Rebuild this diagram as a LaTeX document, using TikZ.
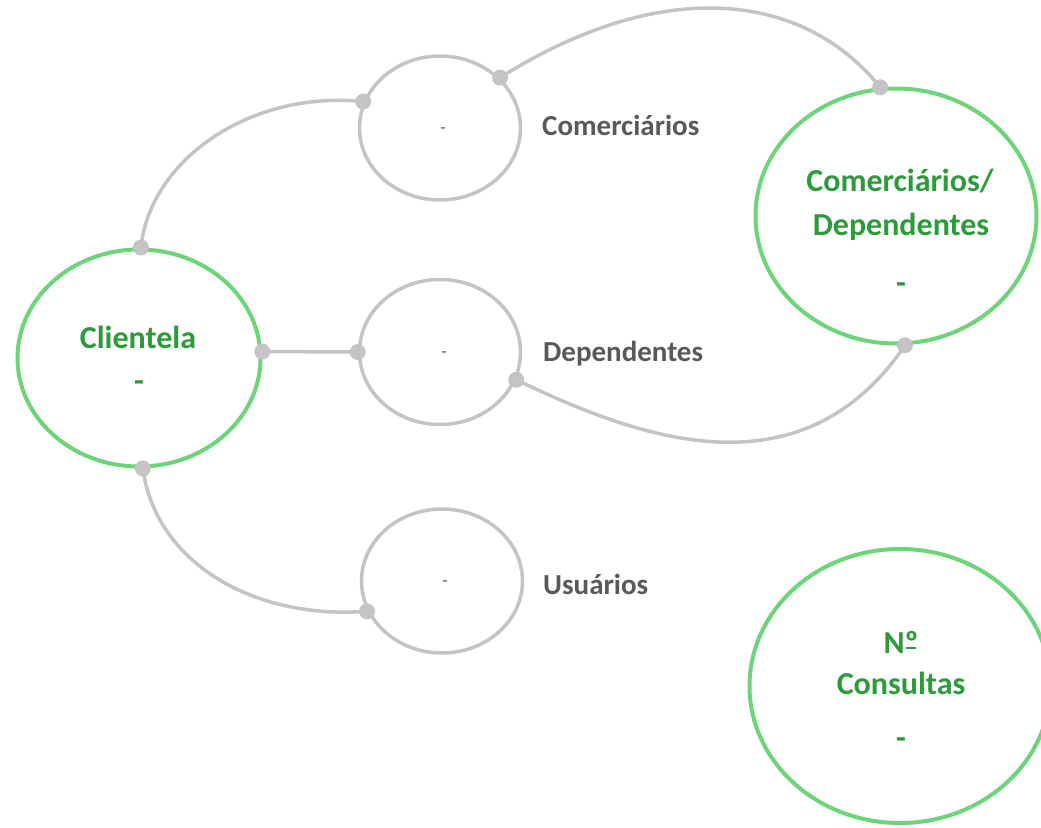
\documentclass[tikz,border=0pt]{standalone}
\usepackage{fontspec}
\setmainfont{Carlito}
\usetikzlibrary{shapes.geometric}
\definecolor{ringgreen}{RGB}{110,212,122}
\definecolor{txtgreen}{RGB}{44,156,58}
\definecolor{linegray}{RGB}{196,196,196}
\definecolor{txtgray}{RGB}{89,89,89}
\begin{document}
\begin{tikzpicture}[x=1pt,y=-1pt,
 bigring/.style={ellipse, draw=ringgreen, line width=4pt, fill=white, inner sep=0pt},
 smallring/.style={ellipse, draw=linegray, line width=3.5pt, fill=white, inner sep=0pt},
 greentext/.style={text=txtgreen, font=\fontsize{32}{38}\selectfont\bfseries, inner sep=0pt},
 graydash/.style={text=txtgray, font=\fontsize{18}{20}\selectfont, inner sep=0pt},
 side/.style={anchor=west, text=txtgray, font=\fontsize{29}{34}\selectfont\bfseries, inner sep=0pt},
 link/.style={draw=linegray, line width=3.5pt},
 dotmark/.style={circle, fill=linegray, inner sep=0pt, minimum size=16pt}]
\useasboundingbox (0,0) rectangle (1041,827);
\clip (0,0) rectangle (1041,827);
\fill[white] (0,0) rectangle (1041,827);

% rings
\node[bigring, minimum width=243pt, minimum height=217pt] (cl) at (139,358) {};
\node[smallring, minimum width=161pt, minimum height=144pt] (cm) at (440,128) {};
\node[smallring, minimum width=161pt, minimum height=145pt] (dl) at (440,352) {};
\node[smallring, minimum width=161pt, minimum height=144pt] (us) at (442,581) {};
\node[bigring, minimum width=281pt, minimum height=255pt] (cd) at (896,216) {};
\node[bigring, minimum width=301pt, minimum height=274pt] (nc) at (900,686) {};

% texts in rings
\node[greentext] (cltxt) at (138,337) {Clientela};
\node[greentext] (clval) at (139,386) {-};
\node[graydash] (cmval) at (443,131) {-};
\node[graydash] (dlval) at (444,355) {-};
\node[graydash] (usval) at (445,584) {-};
\node[greentext] (cdtxta) at (900,181) {Comerciários/};
\node[greentext] (cdtxtb) at (901,227) {Dependentes};
\node[greentext] (cdval) at (901,288) {-};
\node[greentext] (nctxta) at (901,642) {N\rlap{\kern1.5pt\rule[4pt]{10pt}{2.5pt}}º};
\node[greentext] (nctxtb) at (901,683) {Consultas};
\node[greentext] (ncval) at (901,743) {-};

% side labels
\node[side] (lcm) at (542,125) {Comerciários};
\node[side] (ldl) at (543,354) {Dependentes};
\node[side] (lus) at (543,584) {Usuários};

% connectors
\draw[link] (cl.89) .. controls (150,160) and (250,90) .. (cm.161);
\draw[link] (cl.3) -- (dl.west);
\draw[link] (cl.272) .. controls (155,560) and (250,620) .. (us.202);
\draw[link] (cm.40) .. controls (660,-23) and (802,-10) .. (cd.97);
\draw[link] (dl.340) .. controls (641,440) and (802,497) .. (cd.274);

% dots
\node[dotmark] (p1) at (cl.89) {};
\node[dotmark] (p2) at (cm.161) {};
\node[dotmark] (p3) at (cl.3) {};
\node[dotmark] (p4) at (dl.west) {};
\node[dotmark] (p5) at (cl.272) {};
\node[dotmark] (p6) at (us.202) {};
\node[dotmark] (p7) at (cm.40) {};
\node[dotmark] (p8) at (cd.97) {};
\node[dotmark] (p9) at (dl.340) {};
\node[dotmark] (p10) at (cd.274) {};
\end{tikzpicture}
\end{document}
